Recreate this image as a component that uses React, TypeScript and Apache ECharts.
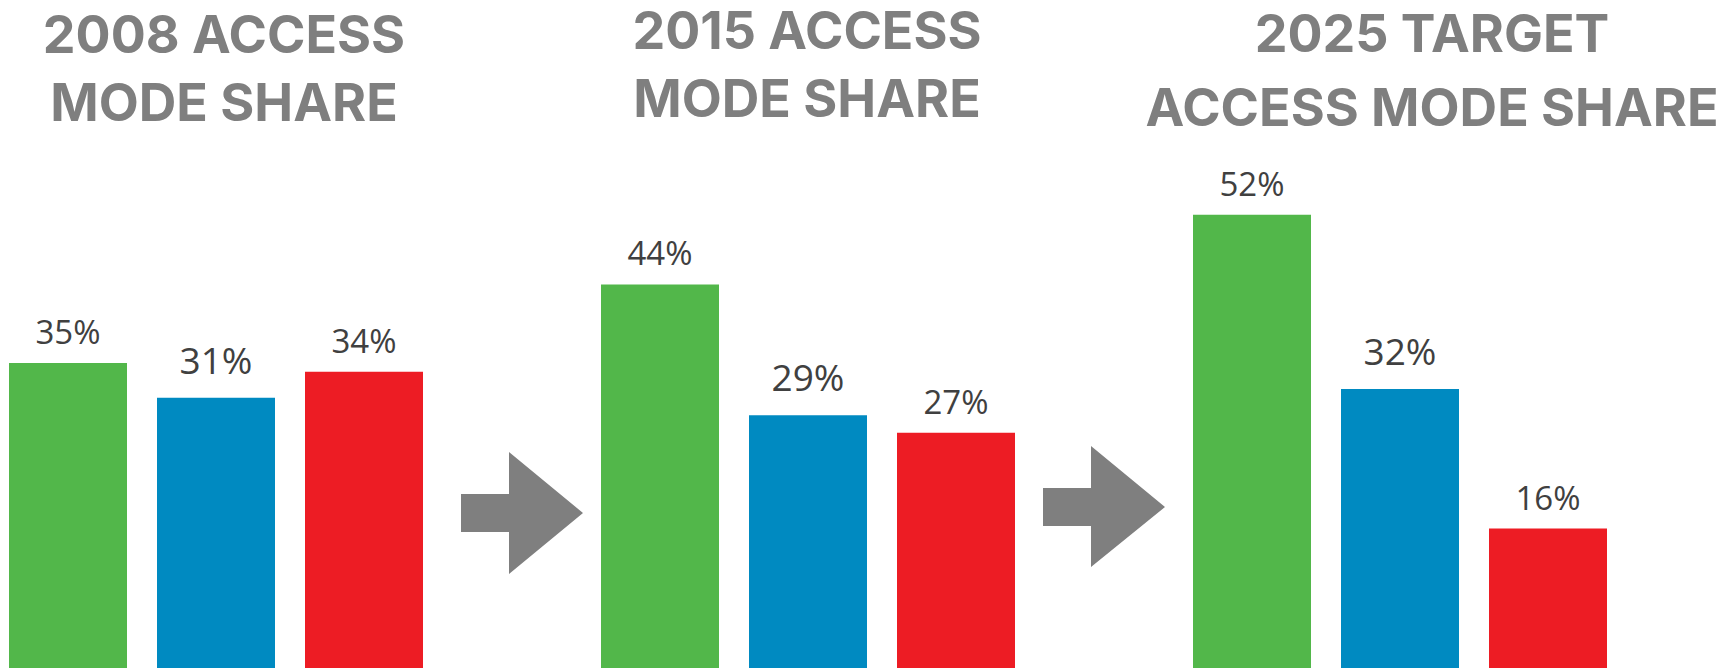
import React, { useEffect, useRef } from "react";
import * as echarts from "echarts";

// Data
const periodTitleLines = [
  ["2008 ACCESS", "MODE SHARE"],
  ["2015 ACCESS", "MODE SHARE"],
  ["2025 TARGET", "ACCESS MODE SHARE"],
];
const periodKeys = ["2008", "2015", "2025"];
const modeNames = ["Green mode", "Blue mode", "Red mode"];
const greenValues = [35, 44, 52];
const blueValues = [31, 29, 32];
const redValues = [34, 27, 16];

const modeColors = ["#52b74a", "#008ac1", "#ed1c24"];

const OFFSET = 6; // chart div starts 6px left of the page

export default function App() {
  const ref = useRef<HTMLDivElement>(null);

  useEffect(() => {
    if (!ref.current) return;
    const chart = echarts.init(ref.current, undefined, { renderer: "svg" });

    const categories: string[] = [];
    const seriesData: (number | null)[][] = [[], [], []];
    const valuesByMode = [greenValues, blueValues, redValues];
    periodKeys.forEach((p, pi) => {
      modeNames.forEach((m, mi) => {
        categories.push(p + " " + m);
        for (let s = 0; s < 3; s++) {
          seriesData[s].push(s === mi ? valuesByMode[mi][pi] : null);
        }
      });
      if (pi < periodKeys.length - 1) {
        categories.push(p + " arrow");
        for (let s = 0; s < 3; s++) seriesData[s].push(null);
      }
    });

    const titleCenters = [219, 802, 1427];
    const lineTops = [
      [6, 74],
      [2, 70],
      [5, 79],
    ];

    const titles: any[] = [];
    periodTitleLines.forEach((lines, i) => {
      lines.forEach((ln, j) => {
        titles.push({
          text: ln,
          left: titleCenters[i] + OFFSET,
          top: lineTops[i][j],
          textAlign: "center",
          textStyle: {
            fontFamily: "Inter",
            fontWeight: "bold",
            fontSize: 52,
            color: "#7f7f7f",
            lineHeight: 46,
          },
        });
      });
    });

    const arrow = (pts: number[][]) => ({
      type: "polygon",
      shape: { points: pts.map(([x, y]) => [x + OFFSET, y]) },
      style: { fill: "#7f7f7f" },
      silent: true,
    });

    const labelSizes = [33, 37, 33];
    const labelDist = [15, 20, 15];

    chart.setOption({
      animation: false,
      title: titles,
      grid: { left: 0, right: 110, top: 145, bottom: 2, containLabel: false },
      xAxis: {
        type: "category",
        data: categories,
        show: false,
        boundaryGap: true,
      },
      yAxis: { type: "value", min: 0, max: 60, show: false },
      series: seriesData.map((d, s) => ({
        name: modeNames[s],
        type: "bar",
        data: d,
        barWidth: 118,
        barGap: "-100%",
        itemStyle: { color: modeColors[s] },
        label: {
          show: true,
          position: "top",
          distance: labelDist[s],
          formatter: "{c}%",
          fontFamily: "Open Sans",
          fontSize: labelSizes[s],
          color: "#404040",
        },
      })),
      graphic: [
        arrow([[461, 494], [509, 494], [509, 452], [583, 513], [509, 574], [509, 532], [461, 532]]),
        arrow([[1043, 488], [1091, 488], [1091, 446], [1165, 507], [1091, 567], [1091, 526], [1043, 526]]),
      ],
    });

    return () => chart.dispose();
  }, []);

  return (
    <div
      ref={ref}
      style={{ position: "fixed", left: -OFFSET, top: 0, width: 1732 + OFFSET, height: 670, background: "#fff" }}
    />
  );
}
